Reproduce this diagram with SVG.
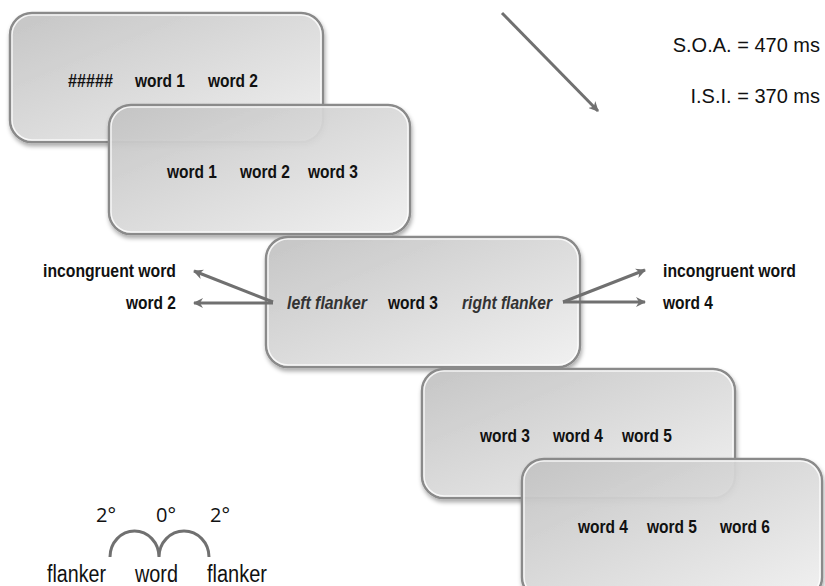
<svg xmlns="http://www.w3.org/2000/svg" width="825" height="586" viewBox="0 0 825 586">
<defs>
<linearGradient id="g" x1="0" y1="0" x2="1" y2="1">
<stop offset="0" stop-color="#c4c4c4"/>
<stop offset="1" stop-color="#f3f3f3"/>
</linearGradient>
<filter id="sh" x="-10%" y="-10%" width="120%" height="130%">
<feDropShadow dx="1" dy="3" stdDeviation="2" flood-color="#000" flood-opacity="0.35"/>
</filter>
<marker id="ah" markerWidth="10" markerHeight="10" refX="9" refY="5" orient="auto" markerUnits="userSpaceOnUse">
<path d="M0,0 L10,5 L0,10 L3,5 z" fill="#707070"/>
</marker>
<style>
.box{fill:url(#g);stroke:#8a8a8a;stroke-width:2.5;filter:url(#sh);fill-opacity:0.92}
.hl{fill:none;stroke:#ffffff;stroke-width:1.5;stroke-opacity:0.8}
.t{font-family:"Liberation Sans",Arial,sans-serif;font-size:18px;font-weight:bold;fill:#111}
.ti{font-family:"Liberation Sans",Arial,sans-serif;font-size:18px;font-weight:bold;font-style:italic;fill:#333}
.r{font-family:"Liberation Sans",Arial,sans-serif;font-size:23px;fill:#111}
.s{font-family:"Liberation Sans",Arial,sans-serif;font-size:20px;fill:#111}
.d{font-family:"Open Sans","Noto Sans",sans-serif;font-size:20px;fill:#111}
.c{stroke:#707070;stroke-width:3;fill:none}
.arc{stroke:#707070;stroke-width:3;fill:none}
</style>
</defs>

<g id="box1">
<rect class="box" x="10" y="13" width="313" height="129" rx="22"/>
<rect class="hl" x="12" y="15" width="309" height="125" rx="20"/>
<text class="t" x="68" y="87" textLength="45" lengthAdjust="spacingAndGlyphs">#####</text>
<text class="t" x="135" y="87" textLength="50" lengthAdjust="spacingAndGlyphs">word 1</text>
<text class="t" x="208" y="87" textLength="50" lengthAdjust="spacingAndGlyphs">word 2</text>
</g>

<g id="box2">
<rect class="box" x="109" y="105" width="301" height="129" rx="22"/>
<rect class="hl" x="111" y="107" width="297" height="125" rx="20"/>
<text class="t" x="167" y="178" textLength="50" lengthAdjust="spacingAndGlyphs">word 1</text>
<text class="t" x="240" y="178" textLength="50" lengthAdjust="spacingAndGlyphs">word 2</text>
<text class="t" x="308" y="178" textLength="50" lengthAdjust="spacingAndGlyphs">word 3</text>
</g>

<g id="box3">
<rect class="box" x="266" y="237" width="314" height="130" rx="22"/>
<rect class="hl" x="268" y="239" width="310" height="126" rx="20"/>
<text class="ti" x="287" y="309" textLength="80" lengthAdjust="spacingAndGlyphs">left flanker</text>
<text class="t" x="388" y="309" textLength="50" lengthAdjust="spacingAndGlyphs">word 3</text>
<text class="ti" x="462" y="309" textLength="90" lengthAdjust="spacingAndGlyphs">right flanker</text>
</g>

<g id="box4">
<rect class="box" x="422" y="369" width="313" height="129" rx="22"/>
<rect class="hl" x="424" y="371" width="309" height="125" rx="20"/>
<text class="t" x="480" y="442" textLength="50" lengthAdjust="spacingAndGlyphs">word 3</text>
<text class="t" x="553" y="442" textLength="50" lengthAdjust="spacingAndGlyphs">word 4</text>
<text class="t" x="622" y="442" textLength="50" lengthAdjust="spacingAndGlyphs">word 5</text>
</g>

<g id="box5">
<rect class="box" x="522" y="459" width="300" height="140" rx="22"/>
<rect class="hl" x="524" y="461" width="296" height="136" rx="20"/>
<text class="t" x="578" y="533" textLength="50" lengthAdjust="spacingAndGlyphs">word 4</text>
<text class="t" x="647" y="533" textLength="50" lengthAdjust="spacingAndGlyphs">word 5</text>
<text class="t" x="720" y="533" textLength="50" lengthAdjust="spacingAndGlyphs">word 6</text>
</g>

<g id="labels">
<text class="t" x="43" y="277" textLength="133" lengthAdjust="spacingAndGlyphs">incongruent word</text>
<text class="t" x="126" y="309" textLength="50" lengthAdjust="spacingAndGlyphs">word 2</text>
<text class="t" x="663" y="277" textLength="133" lengthAdjust="spacingAndGlyphs">incongruent word</text>
<text class="t" x="663" y="309" textLength="50" lengthAdjust="spacingAndGlyphs">word 4</text>
<text class="s" x="820" y="52" text-anchor="end">S.O.A. = 470 ms</text>
<text class="s" x="820" y="103" text-anchor="end">I.S.I. = 370 ms</text>
</g>

<g id="connectors">
<line class="c" x1="273" y1="302" x2="194" y2="271" marker-end="url(#ah)"/>
<line class="c" x1="273" y1="303" x2="194" y2="303" marker-end="url(#ah)"/>
<line class="c" x1="563" y1="302" x2="645" y2="270" marker-end="url(#ah)"/>
<line class="c" x1="563" y1="302" x2="645" y2="302" marker-end="url(#ah)"/>
<line class="c" x1="502" y1="13" x2="598" y2="111" marker-end="url(#ah)"/>
</g>

<g id="visual-angle">
<path class="arc" d="M110,557 A24.5,26 0 0 1 159,557 A25,26 0 0 1 209,557"/>
<text class="d" x="106" y="522" text-anchor="middle">2°</text>
<text class="d" x="166" y="522" text-anchor="middle">0°</text>
<text class="d" x="220" y="522" text-anchor="middle">2°</text>
<text class="r" x="47" y="582" textLength="59" lengthAdjust="spacingAndGlyphs">flanker</text>
<text class="r" x="135" y="582" textLength="43" lengthAdjust="spacingAndGlyphs">word</text>
<text class="r" x="207" y="582" textLength="60" lengthAdjust="spacingAndGlyphs">flanker</text>
</g>
</svg>
